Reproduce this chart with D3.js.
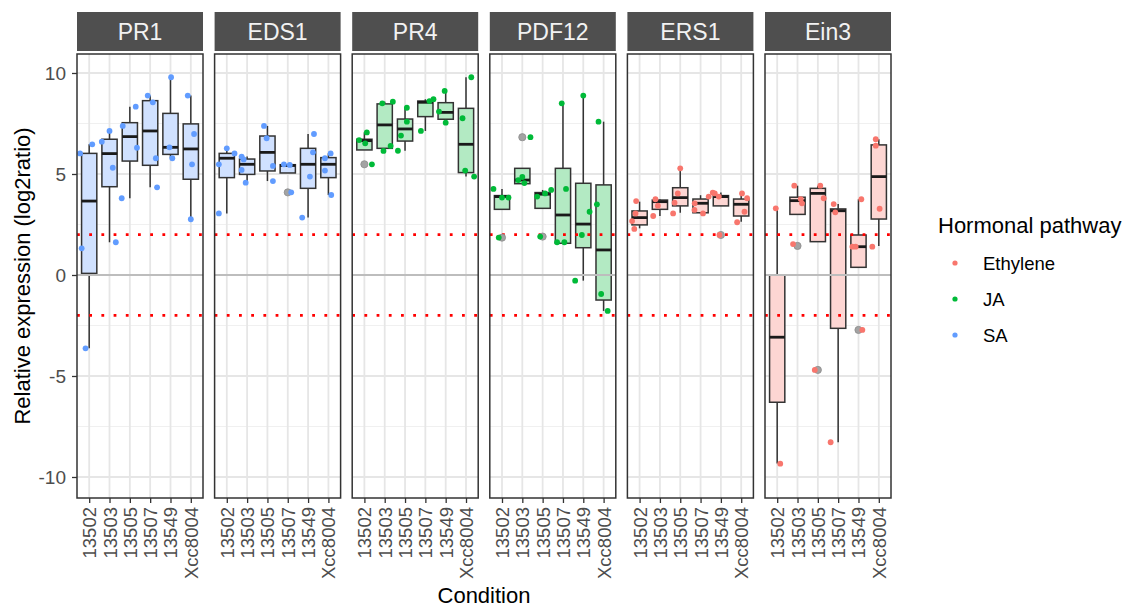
<!DOCTYPE html>
<html>
<head>
<meta charset="utf-8">
<script src="https://cdn.jsdelivr.net/npm/d3@7"></script>
<style>
  html, body { margin: 0; padding: 0; background: #ffffff; }
  svg { display: block; font-family: "Liberation Sans", Arial, sans-serif; }
</style>
</head>
<body>
<svg id="chart" width="1133" height="608"></svg>
<script>
// ---- data ----
const conditions = ["13502", "13503", "13505", "13507", "13549", "Xcc8004"];
const genes = ["PR1", "EDS1", "PR4", "PDF12", "ERS1", "Ein3"];
const genePathway = ["SA", "SA", "JA", "JA", "Ethylene", "Ethylene"];
const pathways = ["Ethylene", "JA", "SA"];
const pathwayColors = ["#F8766D", "#00BA38", "#619CFF"];
const yTicks = [-10, -5, 0, 5, 10];
const yMinorTicks = [-7.5, -2.5, 2.5, 7.5];
const foldThresholds = [2, -2];

// box statistics per condition: [lower whisker, Q1, median, Q3, upper whisker]
const statsPR1 = [[-3.63, 0.08, 3.66, 6.02, 6.47], [1.62, 4.37, 6.01, 6.72, 7.13], [3.80, 5.64, 6.85, 7.54, 8.33],
                  [4.34, 5.43, 7.13, 8.63, 8.88], [5.78, 5.97, 6.32, 8.00, 9.79], [2.76, 4.74, 6.24, 7.48, 8.88]];
const statsEDS1 = [[3.05, 4.82, 5.78, 6.02, 6.27], [4.57, 4.98, 5.48, 5.74, 5.86], [4.65, 5.15, 6.07, 6.88, 7.38],
                   [5.05, 5.05, 5.42, 5.46, 5.48], [2.84, 4.29, 5.48, 6.27, 6.98], [3.96, 4.82, 5.48, 5.81, 6.02]];
const statsPR4 = [[6.19, 6.19, 6.65, 6.72, 7.06], [6.14, 6.27, 7.43, 8.47, 8.58], [6.15, 6.63, 7.23, 7.72, 8.28],
                  [7.13, 7.84, 8.55, 8.61, 8.70], [7.51, 7.71, 8.05, 8.53, 9.11], [4.87, 5.07, 6.47, 8.25, 9.79]];
const statsPDF12 = [[3.25, 3.25, 3.88, 3.93, 4.26], [4.52, 4.52, 4.70, 5.28, 5.28], [3.30, 3.30, 4.00, 4.08, 4.21],
                    [1.57, 1.57, 2.97, 5.28, 8.50], [-0.28, 1.35, 2.52, 4.54, 8.88], [-1.78, -1.24, 1.24, 4.46, 7.59]];
const statsERS1 = [[2.31, 2.48, 2.84, 3.17, 3.63], [2.92, 3.25, 3.63, 3.71, 3.75], [3.08, 3.42, 3.83, 4.32, 5.28],
                   [3.05, 3.08, 3.55, 3.76, 3.95], [3.42, 3.42, 3.88, 3.93, 4.08], [2.64, 2.92, 3.50, 3.76, 4.04]];
const statsEin3 = [[-9.33, -6.30, -3.08, 0.00, 3.25], [3.00, 3.00, 3.68, 3.85, 4.42], [1.65, 1.65, 4.04, 4.29, 4.42],
                   [-8.28, -2.64, 3.18, 3.27, 3.51], [0.38, 0.38, 1.40, 1.98, 3.75], [1.44, 2.77, 4.87, 6.44, 6.72]];

// outlying values flagged by the boxplot
const outliersPR1 = [[], [], [], [], [], []];
const outliersEDS1 = [[], [], [], [4.09], [], []];
const outliersPR4 = [[5.48], [], [], [], [], []];
const outliersPDF12 = [[1.85], [6.82], [1.90], [], [], []];
const outliersERS1 = [[], [], [], [], [1.98], []];
const outliersEin3 = [[], [1.44], [-4.70], [], [-2.72], []];

// individual log2 ratios per condition
const valuesPR1 = [[6.02, 6.47, 1.32, -3.63], [6.60, 7.13, 5.31, 1.62], [7.38, 8.33, 6.30, 3.80],
                   [8.88, 8.55, 5.78, 4.34], [9.79, 6.32, 5.78], [8.88, 6.98, 5.48, 2.76]];
const valuesEDS1 = [[6.27, 5.48, 3.05, 6.02], [5.86, 5.20, 4.57, 5.72], [7.38, 6.77, 5.40, 4.65],
                    [5.48, 5.45, 4.09], [6.98, 6.07, 4.87, 2.84], [6.02, 5.78, 5.17, 3.96]];
const valuesPR4 = [[6.68, 7.06, 6.52, 5.48], [8.50, 8.58, 6.14, 6.39], [8.28, 7.59, 6.90, 6.15],
                   [7.13, 8.61, 8.70], [9.11, 8.09, 7.54], [9.79, 7.76, 5.17, 4.87]];
const valuesPDF12 = [[4.26, 3.83, 3.83, 1.85], [6.82, 4.85, 4.70, 4.55], [3.88, 4.04, 4.21, 1.90],
                     [8.50, 4.26, 1.62, 1.62], [8.88, 3.13, 1.98, -0.28], [7.59, 3.50, -0.94, -1.78]];
const valuesERS1 = [[3.66, 3.05, 2.67, 2.28], [3.75, 3.43, 2.92], [5.28, 4.04, 3.58, 3.05],
                    [3.55, 3.22, 3.05, 3.88], [4.08, 4.04, 3.88, 1.98], [4.04, 3.80, 3.13, 2.61]];
const valuesEin3 = [[3.30, -9.34], [4.42, 3.76, 3.55, 1.53], [4.42, 3.80, -4.70],
                    [3.51, 3.10, -8.28], [3.75, 1.40, 1.40, -2.72], [6.72, 6.40, 3.28, 1.40]];

// horizontal jitter of each point, as a fraction of the category spacing
const jitterPR1 = [[-0.45, 0.15, -0.37, -0.18], [-0.38, 0, 0.16, 0.31], [-0.35, 0.29, 0.35, -0.40],
                   [-0.12, 0.13, 0.28, 0.34], [0.03, -0.05, 0.09], [-0.15, 0.16, 0.06, 0]];
const jitterEDS1 = [[0, -0.39, -0.39, 0.38], [-0.27, -0.27, -0.07, -0.17], [-0.17, -0.04, 0.27, 0.27],
                    [-0.19, 0.10, 0.17], [0.29, 0.24, 0.09, -0.29], [0.11, -0.17, -0.17, 0.14]];
const jitterPR4 = [[-0.26, 0.12, 0.04, 0.37], [-0.12, 0.40, -0.06, 0.29], [0.09, 0.09, -0.20, -0.35],
                   [-0.22, 0.20, 0.40], [-0.05, -0.33, 0], [0.26, -0.17, -0.04, 0.40]];
const jitterPDF12 = [[-0.42, 0, 0.32, -0.16], [0.40, 0.0, -0.2, 0.1], [-0.27, 0.12, 0.42, -0.12],
                     [-0.06, 0.15, -0.29, 0.07], [0, 0.31, -0.07, -0.40], [-0.25, -0.33, -0.12, 0.20]];
const jitterERS1 = [[-0.17, -0.2, -0.37, -0.26], [-0.22, -0.1, -0.33], [0, -0.12, -0.28, -0.35],
                    [-0.29, -0.3, 0.12, 0.4], [-0.4, -0.3, -0.1, -0.07], [0.04, 0.29, 0.16, -0.2]];
const jitterEin3 = [[-0.07, 0.15], [-0.16, 0.16, 0.22, -0.22], [0.12, 0.29, -0.15],
                    [-0.22, -0.14, -0.37], [0.14, -0.3, -0.14, 0.19], [-0.15, -0.15, 0.04, -0.32]];

const facetStats = [statsPR1, statsEDS1, statsPR4, statsPDF12, statsERS1, statsEin3];
const facetOutliers = [outliersPR1, outliersEDS1, outliersPR4, outliersPDF12, outliersERS1, outliersEin3];
const facetValues = [valuesPR1, valuesEDS1, valuesPR4, valuesPDF12, valuesERS1, valuesEin3];
const facetJitter = [jitterPR1, jitterEDS1, jitterPR4, jitterPDF12, jitterERS1, jitterEin3];

// ---- layout ----
const svg = d3.select("#chart");
const panelTop = 54, panelBottom = 498;
const panelLeft0 = 77, panelStep = 137.6, panelW = 126;
const stripTop = 12, stripH = 39;

const color = d3.scaleOrdinal().domain(pathways).range(pathwayColors);
const y = d3.scaleLinear().domain([-11.04, 10.94]).range([panelBottom, panelTop]);
const x = d3.scalePoint().domain(conditions).range([0, panelW]).padding(0.6);
const boxW = x.step() * 0.75;

function lighten(c, a) {
  const rgb = d3.rgb(c);
  return d3.rgb(255 - a * (255 - rgb.r), 255 - a * (255 - rgb.g), 255 - a * (255 - rgb.b)).formatHex();
}

svg.append("rect").attr("width", 1133).attr("height", 608).attr("fill", "#ffffff");

genes.forEach((gene, gi) => {
  const g = svg.append("g").attr("transform", `translate(${panelLeft0 + gi * panelStep},0)`);
  const col = color(genePathway[gi]);
  const fill = lighten(col, 0.3);

  // strip
  g.append("rect").attr("x", 0).attr("y", stripTop).attr("width", panelW).attr("height", stripH)
    .attr("fill", "#4f4f4f");
  g.append("text").attr("x", panelW / 2).attr("y", stripTop + stripH / 2)
    .attr("text-anchor", "middle").attr("dominant-baseline", "central")
    .attr("font-size", 23).attr("fill", "#f2f2f2").text(gene);

  // grid
  g.selectAll("line.minor").data(yMinorTicks).join("line")
    .attr("x1", 0).attr("x2", panelW).attr("y1", d => y(d)).attr("y2", d => y(d))
    .attr("stroke", "#f0f0f0").attr("stroke-width", 1.2);
  g.selectAll("line.major").data(yTicks).join("line")
    .attr("x1", 0).attr("x2", panelW).attr("y1", d => y(d)).attr("y2", d => y(d))
    .attr("stroke", "#e6e6e6").attr("stroke-width", 1.8);
  g.selectAll("line.vgrid").data(conditions).join("line")
    .attr("x1", d => x(d)).attr("x2", d => x(d)).attr("y1", panelTop).attr("y2", panelBottom)
    .attr("stroke", "#e6e6e6").attr("stroke-width", 1.8);

  // boxplots
  const stats = facetStats[gi];
  conditions.forEach((cond, ci) => {
    const [lo, q1, med, q3, hi] = stats[ci];
    const cx = x(cond);
    const bg = g.append("g");
    bg.append("line").attr("x1", cx).attr("x2", cx).attr("y1", y(lo)).attr("y2", y(q1))
      .attr("stroke", "#333333").attr("stroke-width", 1.5);
    bg.append("line").attr("x1", cx).attr("x2", cx).attr("y1", y(q3)).attr("y2", y(hi))
      .attr("stroke", "#333333").attr("stroke-width", 1.5);
    bg.append("rect").attr("x", cx - boxW / 2).attr("width", boxW)
      .attr("y", y(q3)).attr("height", Math.max(0.5, y(q1) - y(q3)))
      .attr("fill", fill).attr("stroke", "#333333").attr("stroke-width", 1.5);
    bg.append("line").attr("x1", cx - boxW / 2).attr("x2", cx + boxW / 2)
      .attr("y1", y(med)).attr("y2", y(med))
      .attr("stroke", "#1a1a1a").attr("stroke-width", 2.8);
  });

  // reference lines
  g.append("line").attr("x1", 0).attr("x2", panelW).attr("y1", y(0)).attr("y2", y(0))
    .attr("stroke", "#bdbdbd").attr("stroke-width", 2);
  foldThresholds.forEach(t => {
    g.append("line").attr("x1", 0).attr("x2", panelW).attr("y1", y(t)).attr("y2", y(t))
      .attr("stroke", "#ff0000").attr("stroke-width", 2.8)
      .attr("stroke-dasharray", "2.8 9.4");
  });

  // outliers
  conditions.forEach((cond, ci) => {
    g.selectAll(null).data(facetOutliers[gi][ci]).join("circle")
      .attr("cx", x(cond)).attr("cy", d => y(d)).attr("r", 3.6)
      .attr("fill", "#a3a3a3").attr("stroke", "#8c8c8c").attr("stroke-width", 0.8);
  });

  // jittered points
  conditions.forEach((cond, ci) => {
    const vals = facetValues[gi][ci];
    const jit = facetJitter[gi][ci];
    g.selectAll(null).data(vals.map((v, k) => ({ v, j: jit[k] }))).join("circle")
      .attr("cx", d => x(cond) + d.j * x.step()).attr("cy", d => y(d.v)).attr("r", 2.9)
      .attr("fill", col);
  });

  // panel border
  g.append("rect").attr("x", 0).attr("y", panelTop).attr("width", panelW)
    .attr("height", panelBottom - panelTop)
    .attr("fill", "none").attr("stroke", "#333333").attr("stroke-width", 1.5);

  // x axis
  const xa = g.append("g").attr("transform", `translate(0,${panelBottom})`)
    .call(d3.axisBottom(x).tickSize(5).tickPadding(0));
  xa.select(".domain").remove();
  xa.selectAll(".tick line").attr("stroke", "#333333").attr("stroke-width", 1.3);
  xa.selectAll(".tick text")
    .attr("transform", "translate(0,9) rotate(-90)")
    .attr("x", 0).attr("y", 0).attr("dy", null)
    .attr("text-anchor", "end").attr("dominant-baseline", "central")
    .attr("font-size", 18.5).attr("fill", "#4d4d4d")
    .attr("font-family", "'Liberation Sans', Arial, sans-serif");
});

// y axis
const ya = svg.append("g").attr("transform", `translate(${panelLeft0},0)`)
  .call(d3.axisLeft(y).tickValues(yTicks).tickFormat(d => String(d)).tickSize(5).tickPadding(6));
ya.select(".domain").remove();
ya.selectAll(".tick line").attr("stroke", "#333333").attr("stroke-width", 1.3);
ya.selectAll(".tick text").attr("font-size", 19).attr("fill", "#4d4d4d")
  .attr("font-family", "'Liberation Sans', Arial, sans-serif");

// axis titles
svg.append("text")
  .attr("transform", `translate(30,${(panelTop + panelBottom) / 2}) rotate(-90)`)
  .attr("text-anchor", "middle").attr("font-size", 22).attr("fill", "#000000")
  .text("Relative expression (log2ratio)");
svg.append("text")
  .attr("x", panelLeft0 + (5 * panelStep + panelW) / 2).attr("y", 603)
  .attr("text-anchor", "middle").attr("font-size", 22).attr("fill", "#000000")
  .text("Condition");

// legend
const legend = svg.append("g").attr("transform", "translate(938,0)");
legend.append("text").attr("x", 0).attr("y", 233).attr("font-size", 22).attr("fill", "#000000")
  .text("Hormonal pathway");
pathways.forEach((p, i) => {
  const cy = 263 + i * 36;
  legend.append("circle").attr("cx", 17).attr("cy", cy).attr("r", 2.6).attr("fill", color(p));
  legend.append("text").attr("x", 45).attr("y", cy).attr("dominant-baseline", "central")
    .attr("font-size", 18.5).attr("fill", "#000000").text(p);
});
</script>
</body>
</html>
